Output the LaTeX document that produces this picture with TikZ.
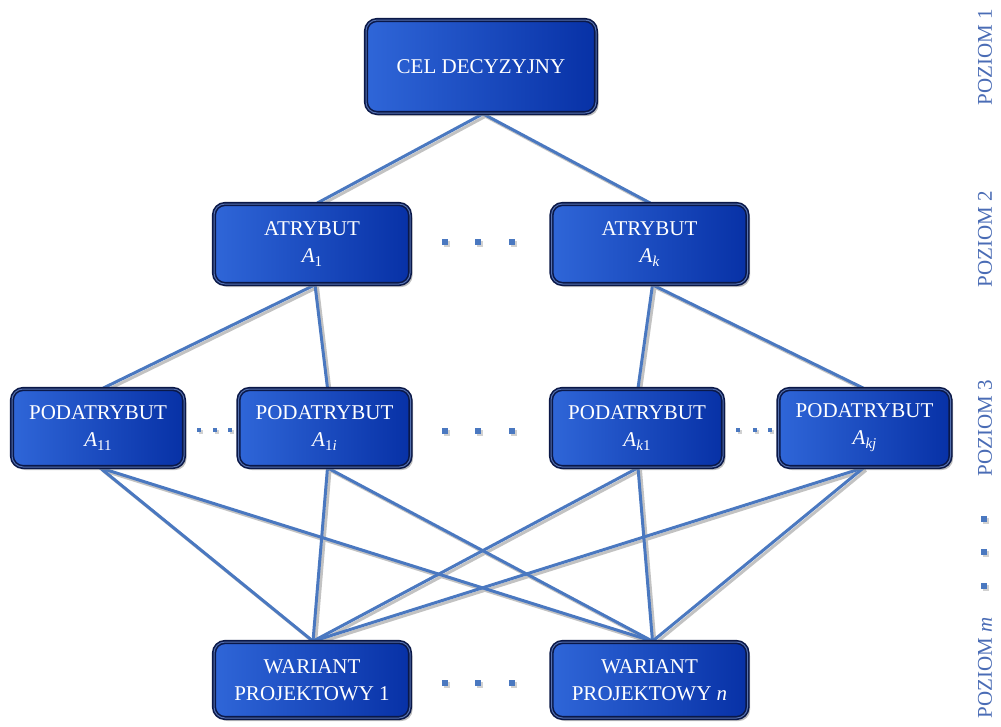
\documentclass[tikz,border=0pt]{standalone}
\usepackage{fontspec}
\setmainfont{Liberation Serif}
\usetikzlibrary{shadows}
\pgfdeclarelayer{bg}
\pgfsetlayers{bg,main}
\definecolor{lineblue}{HTML}{4A78C0}
\definecolor{lshade}{HTML}{C2C2C2}
\definecolor{boxL}{HTML}{2F66D8}
\definecolor{boxR}{HTML}{0731A6}
\definecolor{boxedge}{HTML}{0A1848}
\definecolor{boxmid}{HTML}{5470B0}
\definecolor{lvlblue}{HTML}{4A6CB5}
\newcommand\Asub[1]{\textit{A}\raisebox{-0.4ex}{\fontsize{15}{15}\selectfont #1}}
\tikzset{
  box/.style={rounded corners=11pt, left color=boxL, right color=boxR,
    draw=boxedge, double=boxmid, double distance=1pt, line width=1.6pt,
    text=white, align=center, font=\fontsize{21}{27}\selectfont, inner sep=0pt,
    drop shadow={shadow xshift=2.5pt, shadow yshift=-3pt, fill=black!45, opacity=0.55}},
  celbox/.style={box, minimum width=230pt, minimum height=93pt},
  atrbox/.style={box, minimum width=196pt, minimum height=80pt},
  podbox/.style={box, minimum width=172pt, minimum height=78pt},
  warbox/.style={box, minimum width=196pt, minimum height=76pt},
  conn/.style={draw=lineblue, line width=3pt},
  connshadow/.style={draw=lshade, line width=3pt},
  sq/.style={rectangle, fill=lineblue, inner sep=0pt, minimum size=5.5pt,
    drop shadow={shadow xshift=1.8pt, shadow yshift=-1.8pt, fill=black!30, opacity=0.6}},
  sqs/.style={sq, minimum size=3.5pt},
  lvl/.style={text=lvlblue, font=\fontsize{21}{21}\selectfont, rotate=90, inner sep=0pt},
}
\begin{document}
\begin{tikzpicture}[x=1pt,y=-1pt]
\useasboundingbox (0,0) rectangle (1001,726);
% boxes
\node[celbox] (cel) at (481,66.5) {CEL DECYZYJNY};
\node[atrbox] (a1) at (312,244) {ATRYBUT\\\Asub{1}};
\node[atrbox] (ak) at (649.5,244) {ATRYBUT\\\Asub{\textit{k}}};
\node[podbox] (p11) at (98,428) {PODATRYBUT\\\Asub{11}};
\node[podbox] (p1i) at (324.5,428) {PODATRYBUT\\\Asub{1\textit{i}}};
\node[podbox] (pk1) at (637,428) {PODATRYBUT\\\Asub{\textit{k}1}};
\node[podbox] (pkj) at (864.5,428) {PODATRYBUT\\\Asub{\textit{kj}}};
\node[warbox] (w1) at (312,680) {WARIANT\\PROJEKTOWY 1};
\node[warbox] (wn) at (649.5,680) {WARIANT\\PROJEKTOWY \textit{n}};
% connectors
\begin{pgfonlayer}{bg}
\foreach \a/\ax/\b/\bx in {cel/2/a1/5, cel/2/ak/1, a1/3/p11/5, a1/3/p1i/3, ak/3/pk1/1, ak/3/pkj/-1,
  p11/2/w1/1, p11/2/wn/3, p1i/3/w1/1, p1i/3/wn/3, pk1/1/w1/1, pk1/1/wn/3, pkj/-1/w1/1, pkj/-1/wn/3}{
  \draw[connshadow] ([shift={(\ax+2.5,2.5)}]\a.south) -- ([shift={(\bx+2.5,2.5)}]\b.north);
}
\foreach \a/\ax/\b/\bx in {cel/2/a1/5, cel/2/ak/1, a1/3/p11/5, a1/3/p1i/3, ak/3/pk1/1, ak/3/pkj/-1,
  p11/2/w1/1, p11/2/wn/3, p1i/3/w1/1, p1i/3/wn/3, pk1/1/w1/1, pk1/1/wn/3, pkj/-1/w1/1, pkj/-1/wn/3}{
  \draw[conn] ([xshift=\ax]\a.south) -- ([xshift=\bx]\b.north);
}
\end{pgfonlayer}
% ellipsis squares
\node[sq] (d21) at (445,242) {};
\node[sq] (d22) at (478,242) {};
\node[sq] (d23) at (512,242) {};
\node[sqs] (d31) at (199,430) {};
\node[sqs] (d32) at (215,430) {};
\node[sqs] (d33) at (230,430) {};
\node[sq] (d34) at (445,431) {};
\node[sq] (d35) at (478,431) {};
\node[sq] (d36) at (512,431) {};
\node[sqs] (d37) at (738,430) {};
\node[sqs] (d38) at (755,430) {};
\node[sqs] (d39) at (770,430) {};
\node[sq] (d41) at (445,683) {};
\node[sq] (d42) at (478,683) {};
\node[sq] (d43) at (512,683) {};
% level labels
\node[lvl] (l1) at (985,57) {POZIOM 1};
\node[lvl] (l2) at (985,239) {POZIOM 2};
\node[lvl] (l3) at (985,428) {POZIOM 3};
\node[sq] (v1) at (984,519) {};
\node[sq] (v2) at (984,552) {};
\node[sq] (v3) at (984,586) {};
\node[lvl] (lm) at (985,668) {POZIOM \textit{m}};
\end{tikzpicture}
\end{document}
